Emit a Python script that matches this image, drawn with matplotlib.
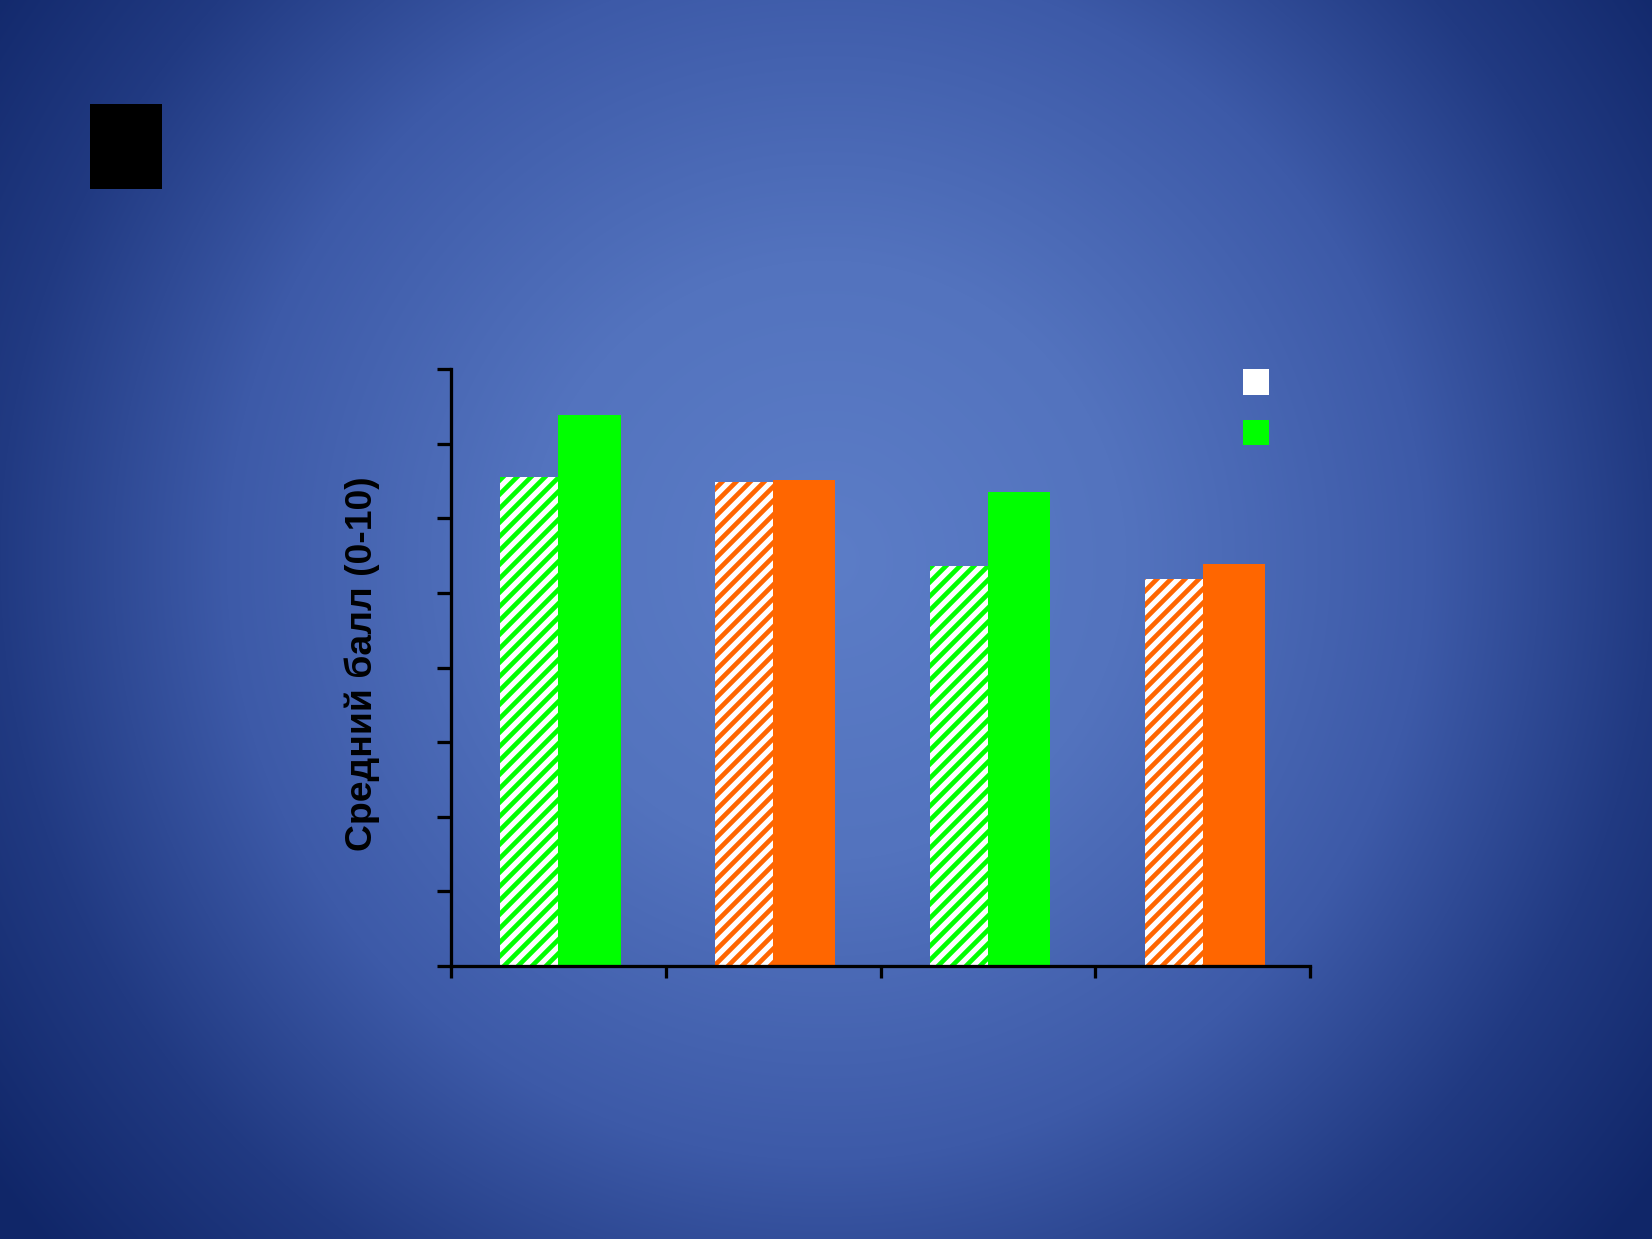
import numpy as np
import matplotlib
matplotlib.use("Agg")
import matplotlib.pyplot as plt
from matplotlib.patches import Patch, Rectangle

# ---- data ----
categories = ["1", "2", "3", "4"]
hatched_values = [6.55, 6.49, 5.36, 5.19]
solid_values = [7.38, 6.51, 6.35, 5.39]
group_colors = ["#00ff00", "#ff6600", "#00ff00", "#ff6600"]
y_ticks = [0, 1, 2, 3, 4, 5, 6, 7, 8]
y_label = "Средний балл (0-10)"

W, H, DPI = 1652, 1239, 168
plt.rcParams["font.family"] = ["Liberation Sans", "DejaVu Sans"]
plt.rcParams["hatch.linewidth"] = 2.0

fig = plt.figure(figsize=(W / DPI, H / DPI), dpi=DPI)

# radial background gradient
yy, xx = np.mgrid[0:H, 0:W]
r = np.hypot(xx - 826, yy - 560)
stops_r = [0, 300, 600, 826, 1040]
stops_c = np.array([[92, 125, 199], [83, 115, 190], [61, 90, 168], [33, 58, 130], [16, 38, 104]]) / 255.0
bg = np.stack([np.interp(r, stops_r, stops_c[:, k]) for k in range(3)], axis=-1)
fig.figimage(bg, xo=0, yo=0, origin="upper", zorder=-10)

# black block at top-left
fig.patches.append(Rectangle((90 / W, 1 - 189 / H), 72 / W, 85 / H,
                             transform=fig.transFigure, facecolor="black",
                             edgecolor="none", zorder=1))

ax = fig.add_axes([451 / W, 1 - 966 / H, 859 / W, 597 / H])
ax.set_facecolor("none")
ax.set_zorder(5)

x = np.arange(len(categories)) + 0.5
bw_h, bw_s = 0.27, 0.29
for xi, hv, sv, c in zip(x, hatched_values, solid_values, group_colors):
    ax.bar(xi - bw_h, hv, width=bw_h, align="edge", facecolor="white",
           edgecolor=c, hatch="////", linewidth=0)
    ax.bar(xi, sv, width=bw_s, align="edge", facecolor=c, edgecolor="none",
           linewidth=0)

ax.set_xlim(0, len(categories))
ax.set_ylim(0, 8)
ax.set_xticks(np.arange(len(categories) + 1))
ax.set_yticks(y_ticks)
ax.set_xticklabels([])
ax.set_yticklabels([])
for s in ["top", "right"]:
    ax.spines[s].set_visible(False)
for s in ["left", "bottom"]:
    ax.spines[s].set_linewidth(1.4)
    ax.spines[s].set_color("black")
ax.tick_params(axis="y", direction="out", length=6, width=1.4, color="black")
ax.tick_params(axis="x", direction="out", length=5, width=1.4, color="black")

ax.set_ylabel(y_label, fontsize=16, fontweight="bold", color="black")
ax.yaxis.set_label_coords(-0.0827, 0.506)

handles = [Patch(facecolor="white", edgecolor="none"),
           Patch(facecolor="#00ff00", edgecolor="none")]
ax.legend(handles, ["", ""], loc="upper left", bbox_to_anchor=(0.922, 1.0),
          frameon=False, borderpad=0, borderaxespad=0, handlelength=1,
          handleheight=1.15, fontsize=11.14, labelspacing=0.92, handletextpad=0)

fig.savefig("out.png", dpi=DPI)
